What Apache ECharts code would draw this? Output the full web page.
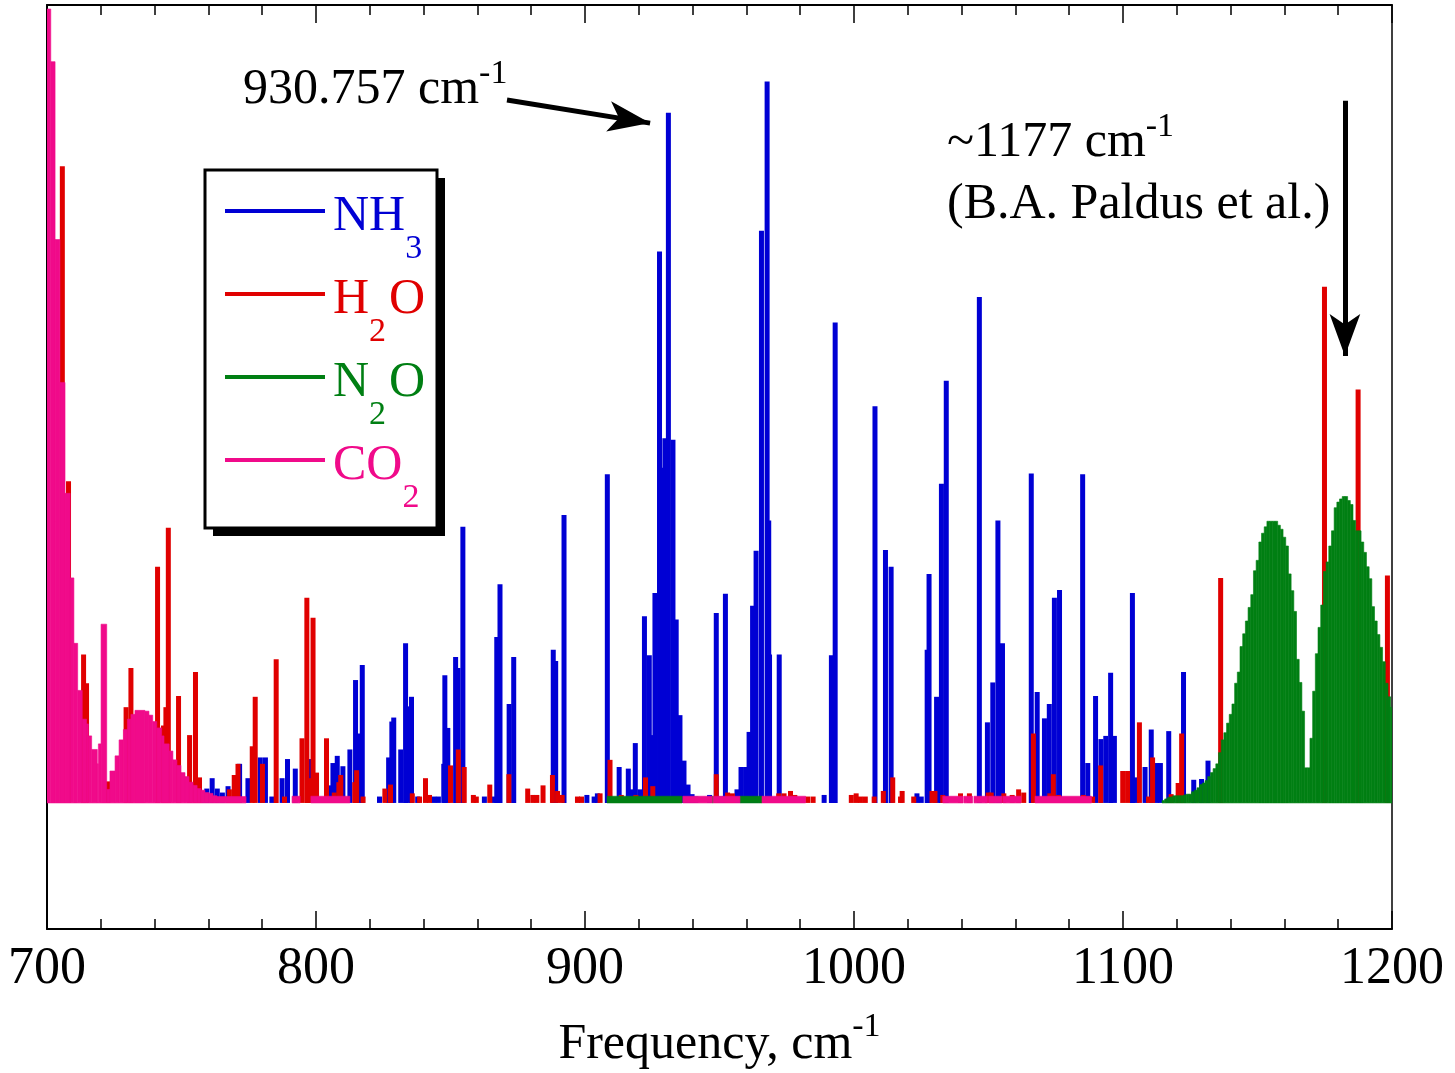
<!DOCTYPE html>
<html><head><meta charset="utf-8">
<script src="https://cdn.jsdelivr.net/npm/echarts@6/dist/echarts.min.js"></script>
<style>html,body{margin:0;padding:0;background:#fff}#c{width:1455px;height:1073px}</style>
</head><body><div id="c"></div>
<script>
// ---------- DATA (frequency in cm^-1, intensity in arbitrary units) ----------
const xTicks = [700, 800, 900, 1000, 1100, 1200];

const nh3Freq = [757.4,759.4,761.4,763.3,765.2,767.3,771.6,774.7,779.3,781.2,783.6,787.4,789.4,792.3,798.0,
805.5,806.3,807.9,810.0,812.6,814.7,815.6,817.2,823.6,827.0,828.2,828.9,831.5,833.3,834.5,835.5,837.8,843.8,845.5,
847.5,847.9,849.0,851.9,852.8,854.6,862.6,866.3,867.2,868.4,871.8,873.5,888.2,889.1,892.2,900.7,903.4,904.6,908.3,
912.7,916.1,917.4,918.7,920.4,922.1,923.9,925.1,926.0,927.7,928.6,929.7,931.0,932.7,933.9,935.3,936.8,938.3,939.8,
941.2,946.3,948.8,950.5,952.2,954.5,956.5,958.0,959.7,961.0,962.3,963.6,965.6,967.7,968.3,968.6,972.2,988.9,991.6,
993.0,1007.8,1011.7,1013.8,1023.4,1025.0,1027.2,1027.9,1030.7,1032.5,1034.3,1046.6,1049.6,1051.6,1053.5,1055.2,
1065.9,1068.1,1070.8,1072.6,1074.5,1076.4,1085.0,1086.9,1089.8,1091.8,1093.6,1095.4,1096.8,1103.5,1105.0,1108.2,
1110.5,1112.4,1113.9,1117.0,1122.5,1126.3,1129.2,1131.6];
const nh3Int = [0.5,1.8,3.1,1.8,1.3,2.1,4.9,3.1,5.7,5.7,0.8,3.1,5.5,4.3,5.5,
2.2,5.0,5.9,4.6,6.7,15.4,8.7,17.3,0.8,5.7,10.2,10.7,6.7,20.0,12.1,13.3,0.8,0.8,0.8,
4.9,16.0,9.4,18.3,16.9,34.6,0.8,0.8,20.8,27.4,12.4,18.3,19.2,17.8,36.1,1.0,0.8,1.2,41.2,
4.5,4.3,1.7,7.5,1.7,23.4,18.5,8.5,26.3,69.1,42.0,45.7,86.5,45.5,23.0,11.0,5.3,2.3,1.1,
0.8,1.0,23.8,0.8,26.2,0.8,1.7,4.5,4.5,8.9,24.7,31.6,71.7,90.4,35.4,18.6,18.6,1.0,18.5,
60.2,49.7,31.7,29.6,1.2,0.8,19.2,28.7,13.3,40.0,52.9,63.4,10.1,15.1,35.4,20.0,
41.3,13.9,10.6,12.4,25.7,26.7,41.2,5.0,13.4,8.0,8.4,16.3,8.4,26.3,3.2,4.5,
9.2,5.0,5.0,9.0,16.4,2.9,3.0,5.3];

const h2oFreq = [705.7,708.0,713.6,714.7,722.6,729.4,731.2,741.1,743.3,744.2,745.1,748.9,753.0,755.2,756.7,
767.8,769.6,771.0,776.3,777.4,780.1,785.2,788.3,794.8,796.6,797.8,798.9,800.2,803.9,806.8,808.5,809.2,814.4,815.1,
817.5,825.6,827.7,835.8,838.5,840.7,842.2,850.0,852.9,855.1,858.5,859.6,864.6,871.7,878.7,880.6,882.1,884.4,887.9,
889.8,891.5,897.2,898.7,905.6,909.3,913.5,918.9,922.5,925.2,948.8,953.0,954.8,972.0,974.0,976.4,978.0,982.8,984.8,
999.0,1000.8,1002.4,1004.2,1007.5,1010.9,1014.4,1017.3,1017.9,1022.2,1029.0,1030.1,1033.0,1039.6,1042.9,1049.9,
1051.0,1055.7,1058.8,1061.2,1063.1,1066.7,1072.8,1074.1,1076.0,1085.3,1087.0,1088.7,1091.7,1099.9,1101.7,1106.1,
1109.5,1111.0,1117.9,1120.5,1121.8,1136.3,1174.9,1187.4,1198.3];
const h2oInt = [79.8,40.3,18.6,15.0,2.7,12.0,16.9,29.6,9.7,12.0,34.5,13.4,8.5,16.4,3.2,
1.7,3.5,4.9,7.1,13.3,4.9,18.0,0.8,8.1,25.7,3.1,23.2,3.8,8.1,1.3,2.6,3.5,2.6,4.1,
0.8,1.8,2.3,1.2,0.8,3.1,1.0,4.7,6.7,4.5,1.0,0.8,2.3,3.6,1.8,1.0,1.0,2.2,3.5,
1.5,1.0,0.8,0.8,1.2,5.4,1.0,1.0,3.2,2.1,3.6,1.3,1.2,1.2,1.2,1.5,1.0,0.8,0.8,
1.0,1.2,0.8,0.8,0.8,1.5,3.2,0.8,1.5,0.8,1.5,1.5,1.0,1.2,1.2,1.3,
1.3,1.2,1.0,1.7,1.3,8.7,1.2,3.6,1.0,1.0,0.8,0.8,4.7,4.0,4.0,10.1,
0.8,5.7,1.1,2.5,8.7,28.2,64.7,51.8,28.5];

// CO2: histogram bin edges and intensities (null = empty bin)
const co2Edges = [700,701.4,703.0,704.8,706.7,708.6,710.0,711.4,713.1,714.7,715.4,716.6,718.7,719.1,720.1,722.2,
723.4,725.3,726.8,728.4,729.9,731.2,732.7,736.4,737.9,739.3,740.8,742.6,743.5,745.4,746.8,748.3,749.8,751.3,752.8,
754.3,755.8,757.2,758.7,760.2,761.7,763.2,774.0,791.1,794.1,798.1,812.6,936.4,947.3,947.7,957.6,965.8,982.0,
1033.0,1040.6,1040.9,1044.1,1044.6,1049.7,1050.0,1055.1,1055.4,1062.1,1067.3,1088.3];
const co2Int = [99.5,92.9,70.6,52.7,38.8,28.2,20.0,14.1,10.5,9.9,8.4,6.7,4.9,7.4,22.4,1.7,
4.0,5.9,7.9,9.2,10.5,11.1,11.6,11.5,11.0,10.2,9.4,8.4,7.4,6.5,5.4,4.7,3.8,3.3,2.6,
2.2,1.8,1.6,1.3,1.2,0.9,0.8,null,0.84,null,0.84,null,0.84,null,0.84,null,0.84,null,
0.84,null,0.84,null,0.84,null,0.84,null,0.84,null,0.84];

// N2O: histogram bin edges and intensities (null = empty bin)
const n2oEdges = [908.2,936.1,947.3,947.7,957.6,965.8,
1114.5,1115.5,1116.5,1117.5,1118.5,1119.5,1120.5,1121.5,1122.5,1123.5,1124.5,1125.5,1126.5,1127.5,1128.5,1129.5,
1130.5,1131.5,1132.5,1133.5,1134.5,1135.5,1136.5,1137.5,1138.5,1139.5,1140.5,1141.5,1142.5,1143.5,1144.5,1145.5,
1146.5,1147.5,1148.5,1149.5,1150.5,1151.5,1152.5,1153.5,1154.5,1155.5,1156.5,1157.5,1158.5,1159.5,1160.5,1161.5,
1162.5,1163.5,1164.5,1165.5,1166.5,1167.5,1168.5,1169.5,1170.5,1171.5,1172.5,1173.5,1174.5,1175.5,1176.5,1177.5,
1178.5,1179.5,1180.5,1181.5,1182.5,1183.5,1184.5,1185.5,1186.5,1187.5,1188.5,1189.5,1190.5,1191.5,1192.5,1193.5,
1194.5,1195.5,1196.5,1197.5,1198.5,1199.5,1200.5];
const n2oInt = [0.84,null,0.84,null,0.84,null,
0.3,0.5,0.7,0.75,0.9,0.9,0.9,0.9,1.0,1.1,1.1,1.4,1.6,1.9,2.3,
2.5,2.8,3.3,3.8,4.3,4.9,6.3,7.9,8.8,10.0,11.1,12.4,15.0,16.4,19.6,21.2,
22.8,24.5,26.1,29.1,30.4,32.7,33.8,34.6,35.3,35.3,35.3,35.3,34.8,34.3,33.3,32.2,
28.7,26.6,24.0,18.0,15.1,11.5,4.4,4.4,8.1,14.0,18.7,22.0,24.8,29.0,30.2,32.2,
34.1,37.0,37.7,38.1,38.4,38.4,37.9,37.4,35.4,34.1,34.1,32.7,31.4,29.6,28.1,24.6,
22.8,21.1,19.5,17.7,15.0,13.3,12.0];

const seriesNames = ['NH3', 'H2O', 'N2O', 'CO2'];
const seriesColors = {NH3:'#0000d4', H2O:'#e00000', N2O:'#007f13', CO2:'#f00a8a'};
const legendLabels = {NH3:'{m|NH}{s|3}', H2O:'{m|H}{s|2}{m|O}', N2O:'{m|N}{s|2}{m|O}', CO2:'{m|CO}{s|2}'};

// annotation arrows (data coordinates: [frequency, intensity]); second point is the arrow tip
const arrow1 = [[871.0, 88.1], [924.2, 85.2]];
const arrow2 = [[1182.5, 88.0], [1182.5, 56.0]];

// ---------- CHART ----------
const FONT = 'Liberation Serif';
const chart = echarts.init(document.getElementById('c'), null, {renderer: 'canvas'});

const STICK_W = 1.86;
function clipTo(params, r) {
  const cs = params.coordSys;
  return echarts.graphic.clipRectByRect(r, {x: cs.x, y: cs.y, width: cs.width, height: cs.height});
}
function stickRender(params, api) {
  const f = api.value(0), v = api.value(1);
  const a = api.coord([f - STICK_W / 2, v]);
  const b = api.coord([f + STICK_W / 2, 0]);
  const r = clipTo(params, {x: a[0], y: a[1], width: b[0] - a[0], height: b[1] - a[1]});
  return r && {type: 'rect', shape: r, style: {fill: api.visual('color')}};
}
function binRender(params, api) {
  const lo = api.value(0), hi = api.value(1), v = api.value(2);
  const a = api.coord([lo, v]);
  const b = api.coord([hi, 0]);
  const r = clipTo(params, {x: a[0], y: a[1], width: b[0] - a[0], height: b[1] - a[1]});
  return r && {type: 'rect', shape: r, style: {fill: api.visual('color'), stroke: api.visual('color'), lineWidth: 0.6}};
}
function sticks(freq, inten) { return freq.map((f, i) => [f, inten[i]]); }
function bins(edges, inten) {
  const out = [];
  for (let i = 0; i < inten.length; i++) if (inten[i] != null) out.push([edges[i], edges[i + 1], inten[i]]);
  return out;
}

function richFor(color) {
  return {
    m: {fontFamily: FONT, fontSize: 50, lineHeight: 50, padding: [6, 0, 0, 3], verticalAlign: 'top', color: color},
    s: {fontFamily: FONT, fontSize: 34, lineHeight: 34, padding: [46, 0, 0, 0], verticalAlign: 'top', color: color}
  };
}
const supRich = (pad) => ({
  a: {fontFamily: FONT, fontSize: 50, lineHeight: 50, padding: [pad, 0, 0, 0], verticalAlign: 'top', color: '#000'},
  b: {fontFamily: FONT, fontSize: 34, lineHeight: 34, verticalAlign: 'top', color: '#000'}
});

const xAxisBase = {
  type: 'value', min: xTicks[0], max: xTicks[xTicks.length - 1], interval: 100, gridIndex: 0,
  splitLine: {show: false},
  axisLine: {show: true, onZero: false, lineStyle: {color: '#000', width: 2}},
  axisTick: {show: true, inside: true, length: 18, lineStyle: {color: '#000', width: 1.5}},
  minorTick: {show: true, splitNumber: 5, length: 10, lineStyle: {color: '#000', width: 1.5}},
};

const option = {
  animation: false,
  backgroundColor: '#fff',
  grid: {left: 47, right: 63, top: 5, bottom: 144, containLabel: false, outerBoundsMode: 'none'},
  xAxis: [
    Object.assign({}, xAxisBase, {
      position: 'bottom',
      axisLabel: {show: true, fontFamily: FONT, fontSize: 52, color: '#000', margin: 14,
                  formatter: (v) => String(v)},
      name: '{a|Frequency, cm}{b|-1}', nameLocation: 'middle', nameGap: 81,
      nameTextStyle: {rich: supRich(10)}
    }),
    Object.assign({}, xAxisBase, {position: 'top', axisLabel: {show: false}})
  ],
  yAxis: [
    {type: 'value', min: -15.8, max: 100, position: 'left', splitLine: {show: false},
     axisLine: {show: true, onZero: false, lineStyle: {color: '#000', width: 2}}, axisTick: {show: false}, axisLabel: {show: false}},
    {type: 'value', min: -15.8, max: 100, position: 'right', splitLine: {show: false},
     axisLine: {show: true, onZero: false, lineStyle: {color: '#000', width: 1.5}}, axisTick: {show: false}, axisLabel: {show: false}}
  ],
  legend: {
    show: true, selectedMode: false, orient: 'vertical', left: 225, top: 186, padding: 0,
    itemGap: 3, itemWidth: 100, itemHeight: 4, icon: 'rect', z: 10,
    formatter: (name) => legendLabels[name],
    data: seriesNames.map(n => ({name: n, textStyle: {rich: richFor(seriesColors[n])}}))
  },
  graphic: [
    {type: 'rect', z: 1, shape: {x: 213, y: 178, width: 232, height: 358}, style: {fill: '#000'}},
    {type: 'rect', z: 1, shape: {x: 205, y: 170, width: 232, height: 358}, style: {fill: '#fff', stroke: '#000', lineWidth: 3}},
    {type: 'text', z: 10, x: 243, y: 57, style: {text: '{a|930.757 cm}{b|-1}', rich: supRich(8), verticalAlign: 'top', align: 'left'}},
    {type: 'text', z: 10, x: 947, y: 110, style: {text: '{a|~1177 cm}{b|-1}', rich: supRich(8), verticalAlign: 'top', align: 'left'}},
    {type: 'text', z: 10, x: 947, y: 205, style: {text: '(B.A. Paldus et al.)', font: '50px "Liberation Serif"', fill: '#000', verticalAlign: 'middle', align: 'left'}}
  ],
  series: [
    {type: 'custom', name: 'NH3', renderItem: stickRender, data: sticks(nh3Freq, nh3Int), encode: {x: 0, y: 1},
     itemStyle: {color: seriesColors.NH3}, clip: true, silent: true},
    {type: 'custom', name: 'H2O', renderItem: stickRender, data: sticks(h2oFreq, h2oInt), encode: {x: 0, y: 1},
     itemStyle: {color: seriesColors.H2O}, clip: true, silent: true},
    {type: 'custom', name: 'N2O', renderItem: binRender, data: bins(n2oEdges, n2oInt), encode: {x: [0, 1], y: 2},
     itemStyle: {color: seriesColors.N2O}, clip: true, silent: true},
    {type: 'custom', name: 'CO2', renderItem: binRender, data: bins(co2Edges, co2Int), encode: {x: [0, 1], y: 2},
     itemStyle: {color: seriesColors.CO2}, clip: true, silent: true},
    {type: 'line', name: 'arrows', data: [], silent: true,
     markLine: {silent: true, symbol: ['none', 'arrow'], symbolSize: [23, 42], animation: false,
       lineStyle: {color: '#000', width: 5, type: 'solid'}, label: {show: false},
       data: [
         [{coord: arrow1[0]}, {coord: arrow1[1]}],
         [{coord: arrow2[0]}, {coord: arrow2[1]}]
       ]}}
  ]
};
chart.setOption(option);
</script>
</body></html>
